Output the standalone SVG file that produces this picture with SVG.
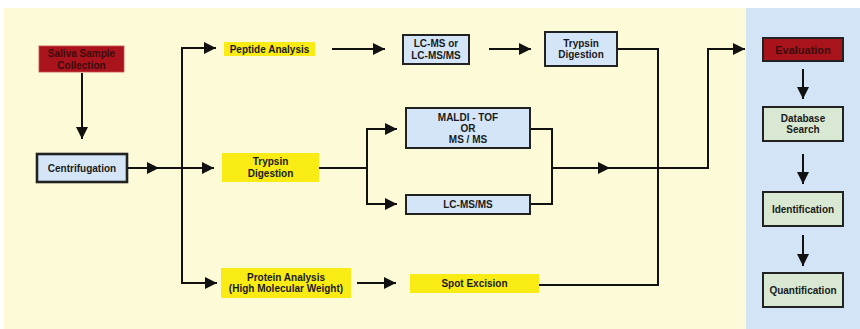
<svg xmlns="http://www.w3.org/2000/svg" width="860" height="329" viewBox="0 0 860 329">
<defs>
<marker id="ah" markerUnits="userSpaceOnUse" markerWidth="13" markerHeight="12" refX="12" refY="6" orient="auto">
<path d="M0,0 L12,6 L0,12 Z" fill="#111"/>
</marker>
<style>
text{font-family:"Liberation Sans",Arial,Helvetica,sans-serif;font-weight:bold;font-size:10px;fill:#1a1a1a;text-anchor:middle;dominant-baseline:central}
.red{fill:#a8131c}
.redt{fill:#3a0c0e;font-size:10px}
.blue{fill:#d5e5f8;stroke:#222;stroke-width:2}
.green{fill:#d8e8d3;stroke:#222;stroke-width:2}
.yel{fill:#f9ec14}
.c{fill:none;stroke:#111;stroke-width:2}
</style>
</defs>
<rect x="0" y="0" width="860" height="329" fill="#ffffff"/>
<rect x="4" y="8" width="742" height="321" fill="#fdfad7"/>
<rect x="746" y="8" width="114" height="321" fill="#d4e4f7"/>

<g id="connectors">
<path class="c" d="M82,73 V139" marker-end="url(#ah)"/>
<path class="c" d="M128,168 H159" marker-end="url(#ah)"/>
<path class="c" d="M155,168 H214" marker-end="url(#ah)"/>
<path class="c" d="M182,168 V48 H216" marker-end="url(#ah)"/>
<path class="c" d="M182,168 V283 H217" marker-end="url(#ah)"/>
<path class="c" d="M332,49 H385" marker-end="url(#ah)"/>
<path class="c" d="M489,49 H531" marker-end="url(#ah)"/>
<path class="c" d="M617,49 H658 V285 H539"/>
<path class="c" d="M319,168 H367"/>
<path class="c" d="M367,168 V129 H397" marker-end="url(#ah)"/>
<path class="c" d="M367,168 V204 H397" marker-end="url(#ah)"/>
<path class="c" d="M530,129 H552 V204 H530"/>
<path class="c" d="M552,168 H610" marker-end="url(#ah)"/>
<path class="c" d="M605,168 H708 V49 H745" marker-end="url(#ah)"/>
<path class="c" d="M357,283 H396" marker-end="url(#ah)"/>
<path class="c" d="M803,69 V99" marker-end="url(#ah)"/>
<path class="c" d="M803,154 V184" marker-end="url(#ah)"/>
<path class="c" d="M803,235 V266" marker-end="url(#ah)"/>
</g>

<g id="saliva">
<rect class="red" x="39" y="46" width="85" height="26" stroke="#c85050" stroke-width="0.8"/>
<text class="redt" x="81.5" y="53.5">Saliva Sample</text>
<text class="redt" x="81.5" y="65">Collection</text>
</g>
<g id="centrifugation">
<rect x="37" y="154" width="90" height="28" fill="#d5e5f8" stroke="#222" stroke-width="2.6"/>
<text x="82" y="168">Centrifugation</text>
</g>
<g id="peptide">
<rect class="yel" x="224" y="42" width="91" height="14"/>
<text x="269.5" y="49">Peptide Analysis</text>
</g>
<g id="trypsin1">
<rect class="yel" x="222" y="153" width="97" height="29"/>
<text x="270.5" y="161.5">Trypsin</text>
<text x="270.5" y="173">Digestion</text>
</g>
<g id="protein">
<rect class="yel" x="221" y="268" width="130" height="30"/>
<text x="286" y="277">Protein Analysis</text>
<text x="286" y="288.5">(High Molecular Weight)</text>
</g>
<g id="lcms1">
<rect class="blue" x="403" y="35" width="66" height="29"/>
<text x="436" y="43.5">LC-MS or</text>
<text x="436" y="55">LC-MS/MS</text>
</g>
<g id="trypsin2">
<rect class="blue" x="545" y="32" width="72" height="34"/>
<text x="581" y="43">Trypsin</text>
<text x="581" y="54.5">Digestion</text>
</g>
<g id="maldi">
<rect class="blue" x="406" y="108" width="124" height="40"/>
<text x="468" y="117">MALDI - TOF</text>
<text x="468" y="128">OR</text>
<text x="468" y="139">MS / MS</text>
</g>
<g id="lcms2">
<rect class="blue" x="406" y="195" width="124" height="19"/>
<text x="468" y="204.5">LC-MS/MS</text>
</g>
<g id="spot">
<rect class="yel" x="410" y="274" width="129" height="19"/>
<text x="474.5" y="283">Spot Excision</text>
</g>
<g id="evaluation">
<rect class="red" x="763" y="38" width="80" height="23" stroke="#222" stroke-width="2"/>
<text class="redt" x="803" y="49.5" style="font-size:11px">Evaluation</text>
</g>
<g id="database">
<rect class="green" x="763" y="107" width="80" height="34"/>
<text x="803" y="118">Database</text>
<text x="803" y="129.5">Search</text>
</g>
<g id="identification">
<rect class="green" x="763" y="192" width="80" height="34"/>
<text x="803" y="209">Identification</text>
</g>
<g id="quantification">
<rect class="green" x="763" y="273" width="80" height="34"/>
<text x="803" y="290">Quantification</text>
</g>
</svg>
